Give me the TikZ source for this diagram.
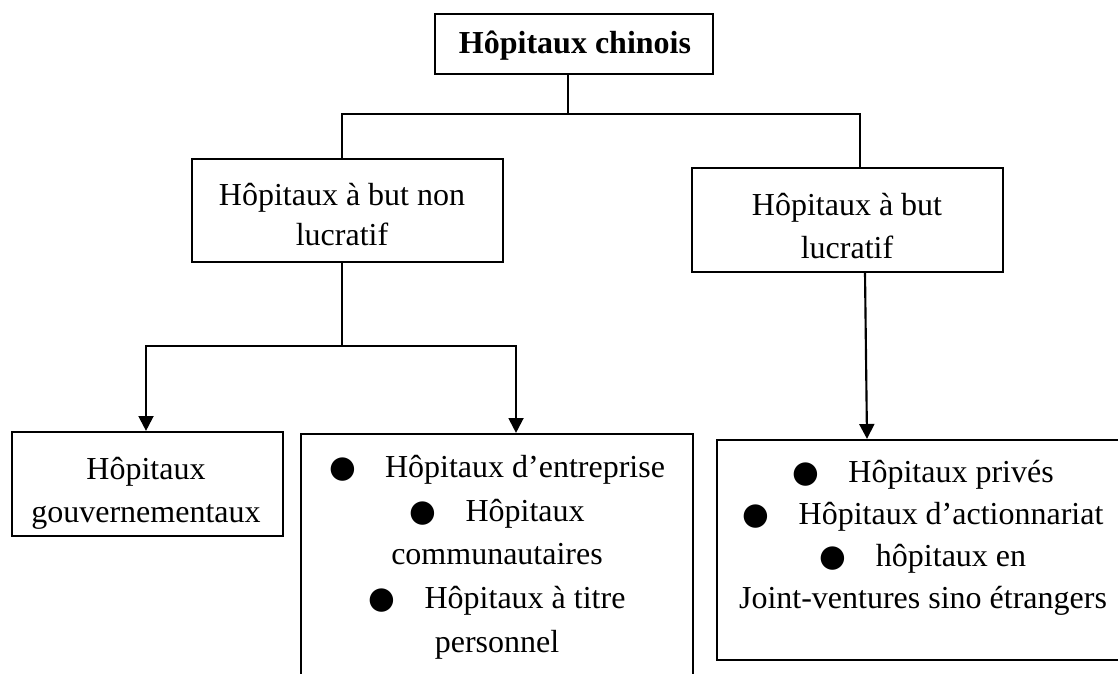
\documentclass[tikz,border=0pt]{standalone}
\usepackage{fontspec}
\setmainfont{Liberation Serif}
\newfontfamily\symfont{DejaVu Sans}
\usetikzlibrary{arrows.meta,fit}
\newcommand\bul{{\symfont\fontsize{11.5}{11.5}\selectfont ●}\hspace{11pt}}
\begin{document}
\begin{tikzpicture}[x=0.375pt,y=-0.375pt, line width=0.8pt,
  box/.style={draw, inner sep=0pt},
  txt/.style={align=center, font=\fontsize{12}{16}\selectfont, inner sep=0pt},
  arr/.style={-{Triangle[width=5.6pt,length=5.6pt]}}]
\useasboundingbox (0,0) rectangle (1118,673);
\clip (0,0) rectangle (1118,673);
% boxes
\node[box, fit={(435,14) (713,74)}] (T) {};
\node[box, fit={(192,159) (503,262)}] (A) {};
\node[box, fit={(692,168) (1003,272)}] (B) {};
\node[box, fit={(12,432) (283,536)}] (C) {};
\node[box, fit={(301,434) (693,720)}] (D) {};
\node[box, fit={(717,440) (1135,660)}] (E) {};
% texts
\node[txt, font=\bfseries\fontsize{12}{16}\selectfont] (Tt) at (575,46) {Hôpitaux chinois};
\node[txt, font=\fontsize{12}{15}\selectfont] (At) at (342,215) {Hôpitaux à but non\\lucratif};
\node[txt] (Bt) at (847,226) {Hôpitaux à but\\lucratif};
\node[txt] (Ct) at (146,493) {Hôpitaux\\gouvernementaux};
\node[txt, font=\fontsize{12}{16.4}\selectfont] (Dt) at (497,557) {\bul Hôpitaux d’entreprise\\ \bul Hôpitaux\\ communautaires\\ \bul Hôpitaux à titre\\ personnel};
\node[txt, font=\fontsize{12}{15.8}\selectfont] (Et) at (923,538) {\bul Hôpitaux privés\\ \bul Hôpitaux d’actionnariat\\ \bul hôpitaux en\\ Joint-ventures sino étrangers};
% connectors
\coordinate (j0) at (568,114);
\coordinate (jl) at (342,114);
\coordinate (jr) at (860,114);
\draw (T.south -| j0) -- (j0);
\draw (A.north -| jl) -- (jl) -- (jr) -- (B.north -| jr);
\coordinate (k0) at (342,346);
\coordinate (k1) at (146,346);
\coordinate (k2) at (516,346);
\draw (A.south -| k0) -- (k0);
\draw[arr] (k0) -- (k1) -- (C.north -| k1);
\draw[arr] (k0) -- (k2) -- (D.north -| k2);
\coordinate (m0) at (865,300);
\coordinate (m1) at (867,300);
\draw[arr] (B.south -| m0) -- (E.north -| m1);
\end{tikzpicture}
\end{document}
